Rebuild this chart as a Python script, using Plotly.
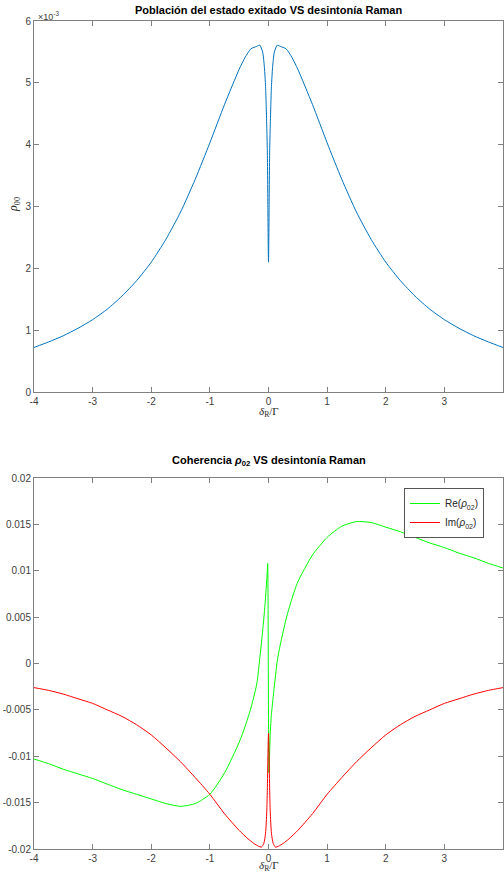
import plotly.graph_objects as go

# --- top panel: rho_00 (units of 1e-3) vs detuning
x_top = [-4, -3.75, -3.5, -3.25, -3, -2.75, -2.5, -2.25, -2, -1.75, -1.5, -1.25, -1,
         -0.75, -0.5, -0.4, -0.3, -0.2, -0.15, -0.1, -0.07, -0.05, -0.04, -0.03,
         -0.02, -0.01, -0.005, 0,
         0.005, 0.01, 0.02, 0.03, 0.04, 0.05, 0.07, 0.1, 0.15, 0.2, 0.3, 0.4, 0.5,
         0.75, 1, 1.25, 1.5, 1.75, 2, 2.25, 2.5, 2.75, 3, 3.25, 3.5, 3.75, 4]
rho00 = [0.72, 0.81, 0.91, 1.03, 1.17, 1.34, 1.55, 1.80, 2.10, 2.47, 2.91, 3.44, 4.03,
         4.65, 5.22, 5.41, 5.55, 5.59, 5.61, 5.50, 5.25, 4.94, 4.65, 4.30,
         3.90, 2.95, 2.40, 2.10,
         2.40, 2.95, 3.90, 4.30, 4.65, 4.94, 5.25, 5.50, 5.61, 5.59, 5.55, 5.41, 5.22,
         4.65, 4.03, 3.44, 2.91, 2.47, 2.10, 1.80, 1.55, 1.34, 1.17, 1.03, 0.91, 0.81, 0.72]

# --- bottom panel: real and imaginary part of rho_02
x_re = [-4, -3.75, -3.5, -3.25, -3, -2.75, -2.5, -2.25, -2, -1.75, -1.5, -1.25, -1,
        -0.75, -0.5, -0.4, -0.3, -0.2, -0.15, -0.1, -0.06, -0.03, -0.02, -0.014,
        -0.008, -0.003, 0, 0.004, 0.008, 0.015, 0.03, 0.05, 0.09, 0.15, 0.2, 0.3,
        0.4, 0.5, 0.75, 1, 1.25, 1.5, 1.75, 2, 2.25, 2.5, 2.75, 3, 3.25, 3.5, 3.75, 4]
re_rho02 = [-0.0103, -0.0108, -0.0114, -0.0119, -0.0124, -0.0130, -0.0136, -0.0141,
            -0.0146, -0.0151, -0.0154, -0.0151, -0.0141, -0.0118, -0.0085, -0.0068,
            -0.0048, -0.0022, 0.0005, 0.0035, 0.0063, 0.0090, 0.0101, 0.0108,
            0.0075, -0.0010, -0.0055, -0.0100, -0.0118, -0.0105, -0.0075, -0.0055,
            -0.0030, 0.0003, 0.0020, 0.0048, 0.0070, 0.0088, 0.0117, 0.0136, 0.0148,
            0.0153, 0.0152, 0.0147, 0.0142, 0.0136, 0.0130, 0.0125, 0.0119, 0.0114,
            0.0108, 0.0103]

x_im = [-4, -3.75, -3.5, -3.25, -3, -2.75, -2.5, -2.25, -2, -1.75, -1.5, -1.25, -1,
        -0.75, -0.5, -0.35, -0.25, -0.17, -0.12, -0.08, -0.05, -0.03, -0.02, -0.01,
        -0.005, 0, 0.005, 0.01, 0.02, 0.03, 0.05, 0.08, 0.12, 0.17, 0.25, 0.35, 0.5,
        0.75, 1, 1.25, 1.5, 1.75, 2, 2.25, 2.5, 2.75, 3, 3.25, 3.5, 3.75, 4]
im_rho02 = [-0.0026, -0.0029, -0.0033, -0.0038, -0.0043, -0.0050, -0.0057, -0.0066,
            -0.0077, -0.0091, -0.0106, -0.0123, -0.0141, -0.0162, -0.0180, -0.0189,
            -0.0194, -0.0197, -0.0198, -0.0194, -0.0183, -0.0160, -0.0137, -0.0100,
            -0.0084, -0.0075, -0.0084, -0.0100, -0.0137, -0.0160, -0.0183, -0.0194,
            -0.0198, -0.0197, -0.0194, -0.0189, -0.0180, -0.0162, -0.0141, -0.0123,
            -0.0106, -0.0091, -0.0077, -0.0066, -0.0057, -0.0050, -0.0043, -0.0038,
            -0.0033, -0.0029, -0.0026]

x_ticks = [-4, -3, -2, -1, 0, 1, 2, 3, 4]
top_ticks = [0, 1, 2, 3, 4, 5, 6]
bot_ticks = [-0.02, -0.015, -0.01, -0.005, 0, 0.005, 0.01, 0.015, 0.02]
bot_ticktext = ["-0.02", "-0.015", "-0.01", "-0.005", "0", "0.005", "0.01", "0.015", "0.02"]

# pixel layout of the MATLAB figure
L, R, T, B = 34, 503, 21, 849
W, H = 504, 876


def px(xp):
    return (xp - L) / (R - L)


def py(yp):
    return (B - yp) / (B - T)


fig = go.Figure()
fig.add_trace(go.Scatter(x=x_top, y=rho00, mode="lines", showlegend=False,
                         line=dict(color="#0072BD", width=1, shape="spline", smoothing=0.6),
                         xaxis="x", yaxis="y"))
fig.add_trace(go.Scatter(x=x_re, y=re_rho02, mode="lines", name="Re(<i>ρ</i><sub>02</sub>)",
                         line=dict(color="#00ff00", width=1, shape="spline", smoothing=0.6),
                         xaxis="x2", yaxis="y2"))
fig.add_trace(go.Scatter(x=x_im, y=im_rho02, mode="lines", name="Im(<i>ρ</i><sub>02</sub>)",
                         line=dict(color="#ff0000", width=1, shape="spline", smoothing=0.6),
                         xaxis="x2", yaxis="y2"))

axis_style = dict(showline=True, mirror="ticks", linecolor="#808080", linewidth=1,
                  ticks="inside", ticklen=5, tickcolor="#808080", showgrid=False,
                  zeroline=False, automargin=False,
                  tickfont=dict(size=10, color="#404040", family="Liberation Sans"))

top_dom = [py(392), 1]
bot_dom = [0, py(478)]

fig.update_layout(
    width=W, height=H,
    margin=dict(l=L, r=W - R, t=T, b=H - B),
    plot_bgcolor="white", paper_bgcolor="white",
    font=dict(family="Liberation Sans", color="#262626"),
    xaxis=dict(domain=[0, 1], range=[-4, 4], tickvals=x_ticks,
               ticktext=[str(v) for v in x_ticks], anchor="y", **axis_style),
    yaxis=dict(domain=top_dom, range=[0, 6], tickvals=top_ticks,
               ticktext=[str(v) for v in top_ticks], anchor="x", **axis_style),
    xaxis2=dict(domain=[0, 1], range=[-4, 4], tickvals=x_ticks,
                ticktext=[str(v) for v in x_ticks], anchor="y2", **axis_style),
    yaxis2=dict(domain=bot_dom, range=[-0.02, 0.02], tickvals=bot_ticks,
                ticktext=bot_ticktext, anchor="x2", **axis_style),
    legend=dict(x=px(484), xanchor="right", y=py(488), yanchor="top",
                bgcolor="white", bordercolor="#555555", borderwidth=1,
                font=dict(size=10, color="#262626"), tracegroupgap=0,
                itemwidth=30),
)

ann = [
    dict(text="<b>Población del estado exitado VS desintonía Raman</b>",
         x=px(268.5), y=py(10), font=dict(size=11, color="black")),
    dict(text="<b>Coherencia <i>ρ</i><sub>02</sub> VS desintonía Raman</b>",
         x=px(268.5), y=py(461), font=dict(size=11, color="black")),
    dict(text="<i>δ</i><sub>R</sub>/Γ", x=px(268.5), y=py(412),
         font=dict(size=11, family="Liberation Serif", color="#262626")),
    dict(text="<i>δ</i><sub>R</sub>/Γ", x=px(268.5), y=py(866),
         font=dict(size=11, family="Liberation Serif", color="#262626")),
    dict(text="<i>ρ</i><sub>00</sub>", x=px(14), y=py(205), textangle=-90,
         font=dict(size=12, family="Liberation Serif", color="#262626")),
    dict(text="×10<sup>-3</sup>", x=px(36), y=py(16), xanchor="left",
         font=dict(size=9, color="#404040")),
]
for a in ann:
    a.setdefault("xanchor", "center")
    fig.add_annotation(xref="paper", yref="paper", showarrow=False,
                       yanchor="middle", **a)

# drop the default 8px page margin so the figure fills the window like the original
fig.write_html("out.html", config={"displayModeBar": False},
               post_script="document.body.style.margin='0';"
                           "document.body.style.overflow='hidden';")
